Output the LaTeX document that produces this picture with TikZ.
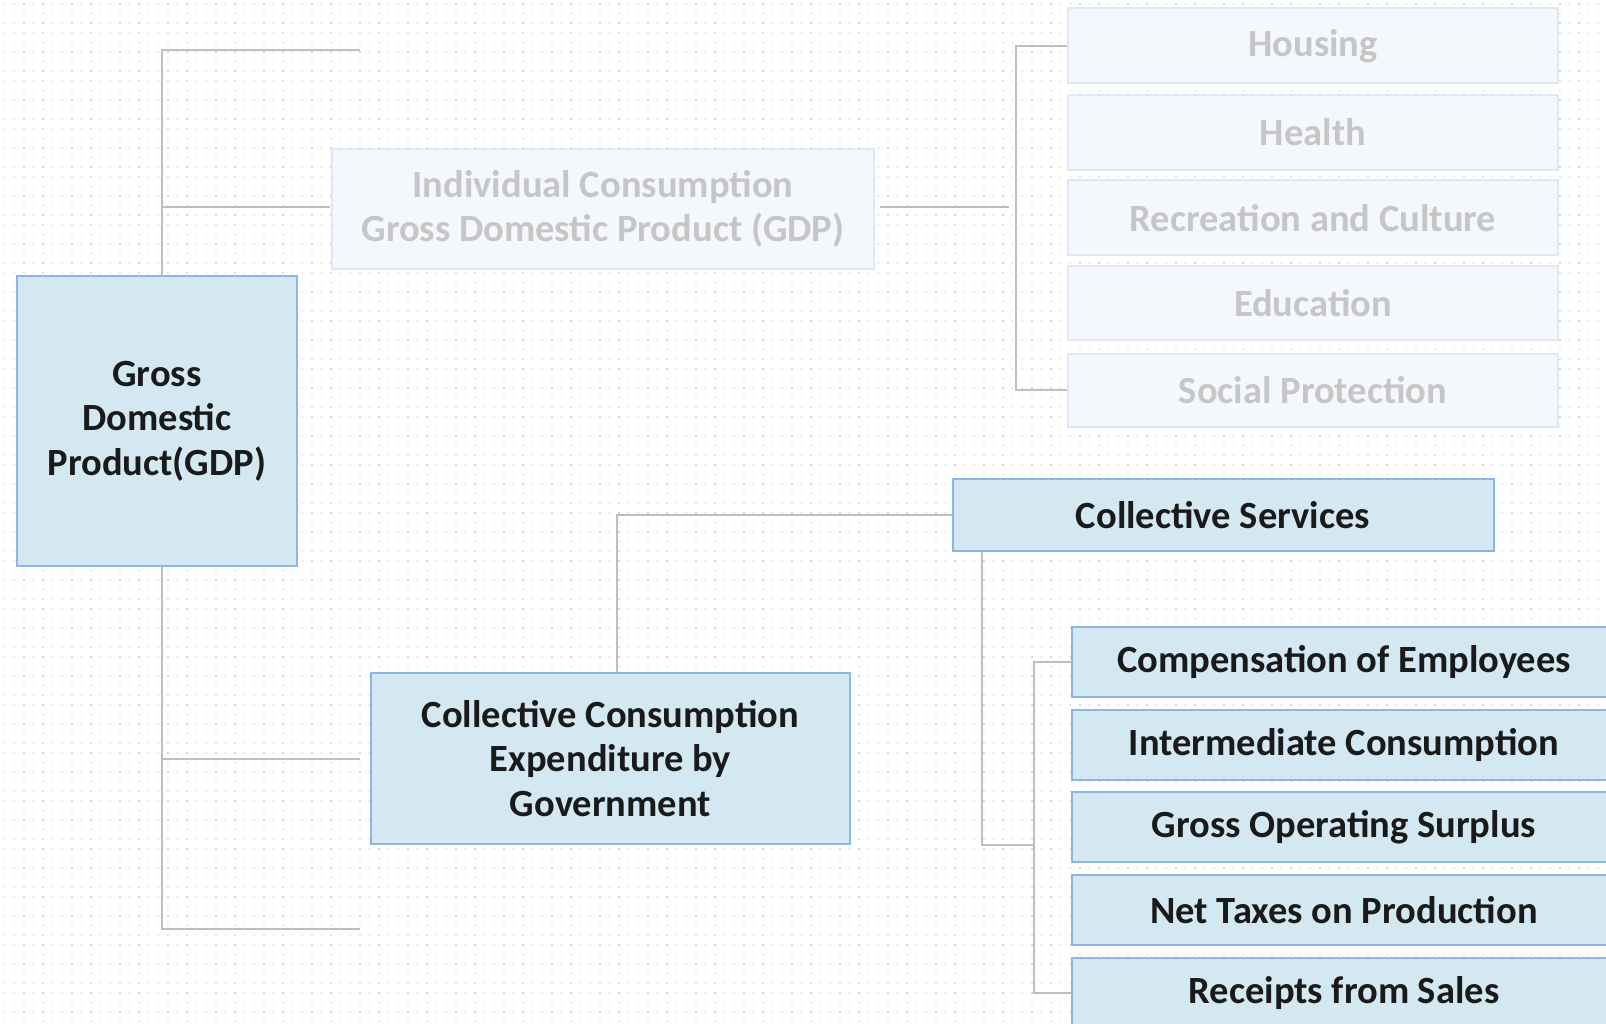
\documentclass[tikz,border=0pt]{standalone}
\usepackage{fontspec}
\setmainfont{Carlito}
\definecolor{darkfill}{HTML}{D3E8F1}
\definecolor{darkedge}{HTML}{8DB5E6}
\definecolor{lightfill}{HTML}{F4F8FC}
\definecolor{lightedge}{HTML}{DFE9F6}
\definecolor{lighttext}{HTML}{C6C6C6}
\definecolor{darktext}{HTML}{1A1A1A}
\definecolor{linegray}{HTML}{BEBEBE}
\definecolor{dotgray}{HTML}{D4D4D4}
\tikzset{
  boxbase/.style={rectangle, inner sep=0pt, align=center, line width=2pt,
    font=\fontsize{38.5}{44.5}\selectfont\bfseries},
  darkbox/.style={boxbase, fill=darkfill, draw=darkedge, text=darktext},
  lightbox/.style={boxbase, fill=lightfill, draw=lightedge, text=lighttext},
  conn/.style={draw=linegray, line width=2pt},
  dotline/.style={draw=dotgray, line width=1.4pt, dash pattern=on 1.4pt off 8.2pt}
}
\begin{document}
\begin{tikzpicture}[x=1pt,y=-1pt]
\useasboundingbox (0,0) rectangle (1606,1024);
\fill[white] (0,0) rectangle (1606,1024);
% dotted background
\foreach \yy in {4,13.6,...,1024} {\draw[dotline] (4,\yy) -- (1606,\yy);}

% helper coordinates
\coordinate (tx) at (162,0);
\coordinate (bx) at (1016,0);
\coordinate (bx2) at (1034,0);
\coordinate (e1) at (360,50);
\coordinate (e4) at (360,929);
\coordinate (ie) at (1009,207);

% connectors (drawn first, boxes cover them)
\draw[conn] (tx |- 0,421) |- (e1);
\draw[conn] (tx |- 0,421) |- (330,207);
\draw[conn] (tx |- 0,421) |- (e4);
\draw[conn] (tx |- 0,759) -- (360,759);

% nodes
\node[darkbox, minimum width=280pt, minimum height=290pt] (gdp) at (157,421) {Gross\\Domestic\\Product(GDP)};
\node[lightbox, minimum width=542pt, minimum height=120pt] (indiv) at (603,209) {Individual Consumption\\Gross Domestic Product (GDP)};

\node[lightbox, minimum width=490pt, minimum height=75pt] (housing) at (1313,46) {Housing};
\node[lightbox, minimum width=490pt, minimum height=75pt] (health) at (1313,132.5) {Health};
\node[lightbox, minimum width=490pt, minimum height=75pt] (recr) at (1313,218) {Recreation and Culture};
\node[lightbox, minimum width=490pt, minimum height=73pt] (educ) at (1313,303) {Education};
\node[lightbox, minimum width=490pt, minimum height=73pt] (social) at (1313,390) {Social Protection};

\node[darkbox, minimum width=541pt, minimum height=72pt] (colserv) at (1223,515) {Collective Services};
\node[darkbox, minimum width=479pt, minimum height=171pt] (colcons) at (610.5,758.5) {Collective Consumption\\Expenditure by\\Government};

\node[darkbox, minimum width=544pt, minimum height=70pt] (comp) at (1344,662) {Compensation of Employees};
\node[darkbox, minimum width=544pt, minimum height=70pt] (inter) at (1344,745) {Intermediate Consumption};
\node[darkbox, minimum width=544pt, minimum height=70pt] (gos) at (1344,827) {Gross Operating Surplus};
\node[darkbox, minimum width=544pt, minimum height=70pt] (ntp) at (1344,910) {Net Taxes on Production};
\node[darkbox, minimum width=544pt, minimum height=70pt] (rec) at (1344,993) {Receipts from Sales};

% connectors between nodes
\draw[conn] ([xshift=5pt]indiv.east |- ie) -- (ie);
\draw[conn] (housing.west) -| (bx |- social.west) -- (social.west);
\draw[conn] ([xshift=6.5pt]colcons.north) |- (colserv.west);
\draw[conn] ([xshift=30.5pt]colserv.south west) |- (bx2 |- colcons.south);
\draw[conn] (comp.west) -| (bx2 |- rec.west) -- (rec.west);
\end{tikzpicture}
\end{document}
